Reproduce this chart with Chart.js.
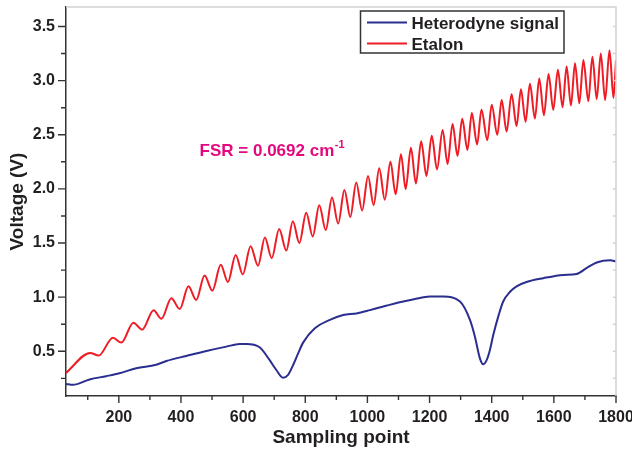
<!DOCTYPE html>
<html>
<head>
<meta charset="utf-8">
<script src="https://cdn.jsdelivr.net/npm/chart.js@4.4.1/dist/chart.umd.min.js"></script>
<style>
  html, body { margin: 0; padding: 0; background: #fff; }
</style>
</head>
<body>
<canvas id="chart" width="632" height="450"></canvas>
<script>
// Etalon: troughs and peaks (sampling point, volts)
const etalonTroughX = [30, 135, 208, 275, 337, 396, 449, 501, 551, 599,
  648, 692, 739, 781, 824, 866, 906, 945, 983, 1020,
  1056, 1091, 1123, 1156, 1190, 1224, 1258, 1290, 1322, 1353,
  1386, 1418, 1448, 1480, 1509, 1539, 1568, 1598, 1628, 1655,
  1682, 1711, 1738, 1765, 1792];
const etalonTroughV = [0.30, 0.46, 0.58, 0.70, 0.80, 0.89, 0.974, 1.06, 1.14, 1.21,
  1.29, 1.36, 1.43, 1.50, 1.56, 1.62, 1.68, 1.74, 1.80, 1.85,
  1.90, 1.95, 2.00, 2.05, 2.12, 2.18, 2.23, 2.305, 2.36, 2.41,
  2.45, 2.50, 2.53, 2.58, 2.62, 2.65, 2.68, 2.73, 2.755, 2.77,
  2.79, 2.81, 2.83, 2.82, 2.84];
// last entry is the value at the right edge
const etalonPeakX = [108, 181, 247, 312, 369, 424, 476, 528, 576, 624,
  670, 716, 760, 803, 845, 886, 926, 964, 1002, 1038,
  1074, 1108, 1140, 1173, 1207, 1242, 1274, 1305, 1336, 1367,
  1400, 1432, 1464, 1494, 1523, 1553, 1583, 1613, 1641, 1668,
  1695, 1724, 1751, 1779, 1800];
const etalonPeakV = [0.485, 0.626, 0.764, 0.88, 0.99, 1.10, 1.20, 1.30, 1.39, 1.47,
  1.55, 1.63, 1.70, 1.78, 1.85, 1.92, 1.99, 2.06, 2.12, 2.19,
  2.25, 2.32, 2.38, 2.44, 2.49, 2.545, 2.60, 2.647, 2.70, 2.73,
  2.776, 2.82, 2.875, 2.92, 2.97, 3.02, 3.06, 3.10, 3.13, 3.16,
  3.19, 3.22, 3.25, 3.28, 3.19];

// Heterodyne signal
const heteroX = [30, 52, 106, 159, 202, 256, 320, 353, 417, 482,
  546, 589, 610, 653, 685, 707, 728, 744, 761, 777,
  793, 830, 879, 922, 965, 1008, 1060, 1100, 1150, 1201,
  1244, 1298, 1330, 1346, 1362, 1373, 1384, 1394, 1405, 1421,
  1437, 1459, 1480, 1512, 1566, 1630, 1673, 1706, 1738, 1781, 1800];
const heteroV = [0.198, 0.19, 0.24, 0.27, 0.297, 0.343, 0.376, 0.41, 0.457, 0.503,
  0.543, 0.567, 0.567, 0.537, 0.42, 0.327, 0.256, 0.28, 0.373, 0.48,
  0.58, 0.71, 0.79, 0.835, 0.85, 0.88, 0.92, 0.95, 0.98, 1.005,
  1.005, 0.96, 0.79, 0.635, 0.435, 0.38, 0.42, 0.51, 0.65, 0.82,
  0.96, 1.05, 1.10, 1.14, 1.175, 1.205, 1.214, 1.27, 1.32, 1.34, 1.33];

const xLabels = [200, 400, 600, 800, 1000, 1200, 1400, 1600, 1800];
const yLabels = [0.5, 1.0, 1.5, 2.0, 2.5, 3.0, 3.5];
const seriesNames = ['Heterodyne signal', 'Etalon'];
const fsrText = 'FSR = 0.0692 cm';
const fsrSup = '-1';
const fsrAt = [460, 2.30];

const FONT = '"Liberation Sans", Arial, sans-serif';
const INK = '#231f20';

function toPoints(xs, ys) {
  return xs.map(function(x, i) { return {x: x, y: ys[i]}; });
}

function etalonPoints() {
  const pts = [];
  for (let i = 0; i < etalonTroughX.length; i++) {
    pts.push({x: etalonTroughX[i], y: etalonTroughV[i]});
    if (i < etalonPeakX.length) pts.push({x: etalonPeakX[i], y: etalonPeakV[i]});
  }
  return pts;
}

function isMajor(list, v) {
  return list.some(function(m) { return Math.abs(m - v) < 1e-6; });
}

const extras = {
  id: 'extras',
  afterDraw(chart) {
    const ctx = chart.ctx;
    const a = chart.chartArea;
    const x = chart.scales.x, y = chart.scales.y;
    ctx.save();

    // mirror axes (light)
    ctx.strokeStyle = '#d2d2d2';
    ctx.lineWidth = 1.5;
    ctx.beginPath();
    ctx.moveTo(a.left, a.top);
    ctx.lineTo(a.right, a.top);
    ctx.lineTo(a.right, a.bottom);
    y.ticks.forEach(function(t) {
      const py = y.getPixelForValue(t.value);
      ctx.moveTo(a.right, py);
      ctx.lineTo(a.right - 3, py);
    });
    ctx.stroke();

    // outward tick marks
    ctx.strokeStyle = '#333';
    ctx.lineWidth = 1.4;
    ctx.beginPath();
    x.ticks.forEach(function(t) {
      const px = x.getPixelForValue(t.value);
      const len = isMajor(xLabels, t.value) ? 7 : 4;
      ctx.moveTo(px, a.bottom);
      ctx.lineTo(px, a.bottom + len);
    });
    y.ticks.forEach(function(t) {
      const py = y.getPixelForValue(t.value);
      const len = isMajor(yLabels, t.value) ? 8 : 5;
      ctx.moveTo(a.left, py);
      ctx.lineTo(a.left - len, py);
    });
    ctx.stroke();

    // legend box
    const bx = a.right - 255.5, by = a.top + 4, bw = 203.5, bh = 42;
    ctx.strokeStyle = '#333';
    ctx.lineWidth = 1.5;
    ctx.strokeRect(bx, by, bw, bh);
    ctx.font = 'bold 17px ' + FONT;
    ctx.textBaseline = 'alphabetic';
    ctx.textAlign = 'left';
    chart.data.datasets.forEach(function(ds, i) {
      const ly = by + 11.5 + i * 21;
      ctx.strokeStyle = ds.borderColor;
      ctx.lineWidth = 2;
      ctx.beginPath();
      ctx.moveTo(bx + 6.5, ly);
      ctx.lineTo(bx + 46.5, ly);
      ctx.stroke();
      ctx.fillStyle = INK;
      ctx.fillText(ds.label, bx + 51, ly + 6.5);
    });

    // FSR note
    const tx = x.getPixelForValue(fsrAt[0]);
    const ty = y.getPixelForValue(fsrAt[1]);
    ctx.fillStyle = '#e4087e';
    ctx.font = 'bold 17px ' + FONT;
    ctx.fillText(fsrText, tx, ty);
    const w = ctx.measureText(fsrText).width;
    ctx.font = 'bold 11px ' + FONT;
    ctx.fillText(fsrSup, tx + w + 0.5, ty - 8);

    ctx.restore();
  }
};

const chart = new Chart(document.getElementById('chart'), {
  type: 'line',
  plugins: [extras],
  data: {
    datasets: [
      {
        label: seriesNames[0],
        data: toPoints(heteroX, heteroV),
        borderColor: '#2a2e8e',
        borderWidth: 2,
        pointRadius: 0,
        cubicInterpolationMode: 'monotone'
      },
      {
        label: seriesNames[1],
        data: etalonPoints(),
        borderColor: '#ee1c25',
        borderWidth: 2,
        pointRadius: 0,
        cubicInterpolationMode: 'monotone'
      }
    ]
  },
  options: {
    responsive: false,
    animation: false,
    devicePixelRatio: 1,
    layout: { padding: { top: 7, right: 16, left: 0, bottom: 0 } },
    plugins: { legend: { display: false }, tooltip: { enabled: false } },
    scales: {
      x: {
        type: 'linear',
        min: 30,
        max: 1800,
        afterFit: function(s) { s.height = 54; s.paddingLeft = 0; s.paddingRight = 0; },
        border: { color: '#333', width: 1.5 },
        grid: { drawOnChartArea: false, tickLength: 7, tickColor: 'rgba(0,0,0,0)' },
        ticks: {
          stepSize: 100,
          includeBounds: false,
          maxRotation: 0,
          autoSkip: false,
          padding: 5,
          color: INK,
          font: { family: FONT, size: 16, weight: 'bold' },
          callback: function(v) { return isMajor(xLabels, v) ? String(v) : ''; }
        },
        title: {
          display: true,
          text: 'Sampling point',
          color: INK,
          font: { family: FONT, size: 19, weight: 'bold' },
          padding: { top: 0, bottom: 1 }
        }
      },
      y: {
        min: 0.087,
        max: 3.68,
        afterFit: function(s) { s.width = 66; s.paddingTop = 0; s.paddingBottom = 0; },
        border: { color: '#333', width: 1.5 },
        grid: { drawOnChartArea: false, tickLength: 7, tickColor: 'rgba(0,0,0,0)' },
        ticks: {
          stepSize: 0.25,
          includeBounds: false,
          autoSkip: false,
          padding: 4,
          color: INK,
          font: { family: FONT, size: 16, weight: 'bold' },
          callback: function(v) { return isMajor(yLabels, v) ? v.toFixed(1) : ''; }
        },
        title: {
          display: true,
          text: 'Voltage (V)',
          color: INK,
          font: { family: FONT, size: 19, weight: 'bold' },
          padding: { top: 6, bottom: 0 }
        }
      }
    }
  }
});
</script>
</body>
</html>
